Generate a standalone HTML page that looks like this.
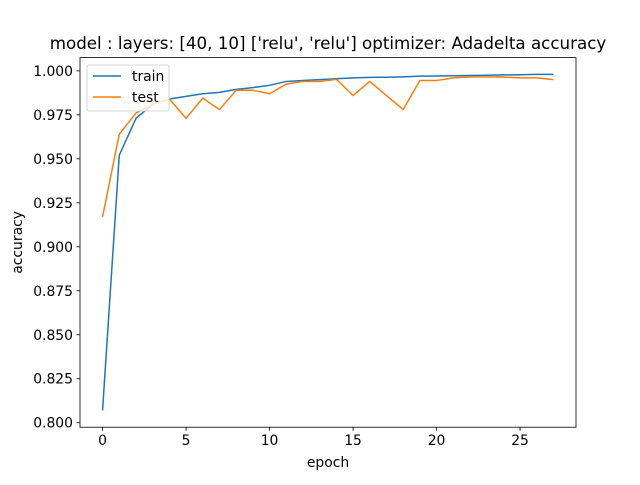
<!DOCTYPE html>
<html><head><meta charset="utf-8"><style>
body{margin:0;background:#fff}
svg{font-family:"DejaVu Sans","Liberation Sans",sans-serif}
</style></head><body>
<svg id="c" width="640" height="480"></svg>
<script>
const epochs=[0,1,2,3,4,5,6,7,8,9,10,11,12,13,14,15,16,17,18,19,20,21,22,23,24,25,26,27];
const trainAcc=[0.807,0.952,0.973,0.981,0.984,0.9855,0.987,0.9878,0.9895,0.9905,0.9918,0.994,0.9945,0.995,0.9955,0.996,0.9963,0.9964,0.9966,0.997,0.9971,0.9972,0.9974,0.9975,0.9977,0.9978,0.998,0.998];
const testAcc=[0.917,0.964,0.976,0.981,0.984,0.973,0.9845,0.978,0.989,0.989,0.987,0.9925,0.994,0.994,0.9952,0.986,0.994,0.986,0.978,0.9945,0.9945,0.996,0.9966,0.9966,0.9965,0.996,0.996,0.995];
const xTicks=[0,5,10,15,20,25];
const yTicks=[0.800,0.825,0.850,0.875,0.900,0.925,0.950,0.975,1.000];
const NS="http://www.w3.org/2000/svg";
const svg=document.getElementById('c');
const L=80,R=576,T=57.6,B=427.2;
const xmin=-1.35,xmax=28.35;
const allV=trainAcc.concat(testAcc);
const dmin=Math.min(...allV),dmax=Math.max(...allV),pad=(dmax-dmin)*0.05;
const ymin=dmin-pad,ymax=dmax+pad;
const sx=v=>L+(v-xmin)/(xmax-xmin)*(R-L);
const sy=v=>B-(v-ymin)/(ymax-ymin)*(B-T);
function mk(tag,attrs,parent){const e=document.createElementNS(NS,tag);for(const k in attrs)e.setAttribute(k,attrs[k]);(parent||svg).appendChild(e);return e;}
const title=mk('text',{x:328,y:49,'text-anchor':'middle','font-size':16.7,fill:'#000'});
title.textContent="model : layers: [40, 10] ['relu', 'relu'] optimizer: Adadelta accuracy";


xTicks.forEach(t=>{const x=sx(t);
 const l=mk('line',{x1:x,x2:x,y1:B,y2:B+3.5,stroke:'#000','stroke-width':0.8});
 
 
 const tx=mk('text',{x:x,y:B+18,'text-anchor':'middle','font-size':13.9});tx.textContent=t;
 
 });
yTicks.forEach(t=>{const y=sy(t);
 const l=mk('line',{x1:L-3.5,x2:L,y1:y,y2:y,stroke:'#000','stroke-width':0.8});
 
 
 const tx=mk('text',{x:L-7,y:y+5,'text-anchor':'end','font-size':13.9});tx.textContent=t.toFixed(3);
 
 });
function line(vals,color,name){const p=vals.map((v,i)=>sx(epochs[i]).toFixed(2)+','+sy(v).toFixed(2)).join(' ');
 const e=mk('polyline',{points:p,fill:'none',stroke:color,'stroke-width':1.5,'stroke-linejoin':'round'});
 
 }
line(trainAcc,'#1f77b4','train-line');
line(testAcc,'#ff7f0e','test-line');
const fr=mk('rect',{x:L,y:T,width:R-L,height:B-T,fill:'none',stroke:'#000','stroke-width':0.8});


const xl=mk('text',{x:(L+R)/2,y:467,'text-anchor':'middle','font-size':13.9});xl.textContent='epoch';


const yl=mk('text',{x:22,y:(T+B)/2,'text-anchor':'middle','font-size':13.9,transform:'rotate(-90 22 '+(T+B)/2+')'});yl.textContent='accuracy';


const lg=mk('g',{});


mk('rect',{x:87,y:65,width:82,height:46,rx:2,fill:'#fff','fill-opacity':0.8,stroke:'#ccc','stroke-width':0.8},lg);
[['train','#1f77b4',76],['test','#ff7f0e',97]].forEach(([n,c,y])=>{
 mk('line',{x1:93,x2:121,y1:y,y2:y,stroke:c,'stroke-width':1.5},lg);
 const t=mk('text',{x:132,y:y+5,'font-size':13.9},lg);t.textContent=n;
 
 });
</script>
</body></html>
